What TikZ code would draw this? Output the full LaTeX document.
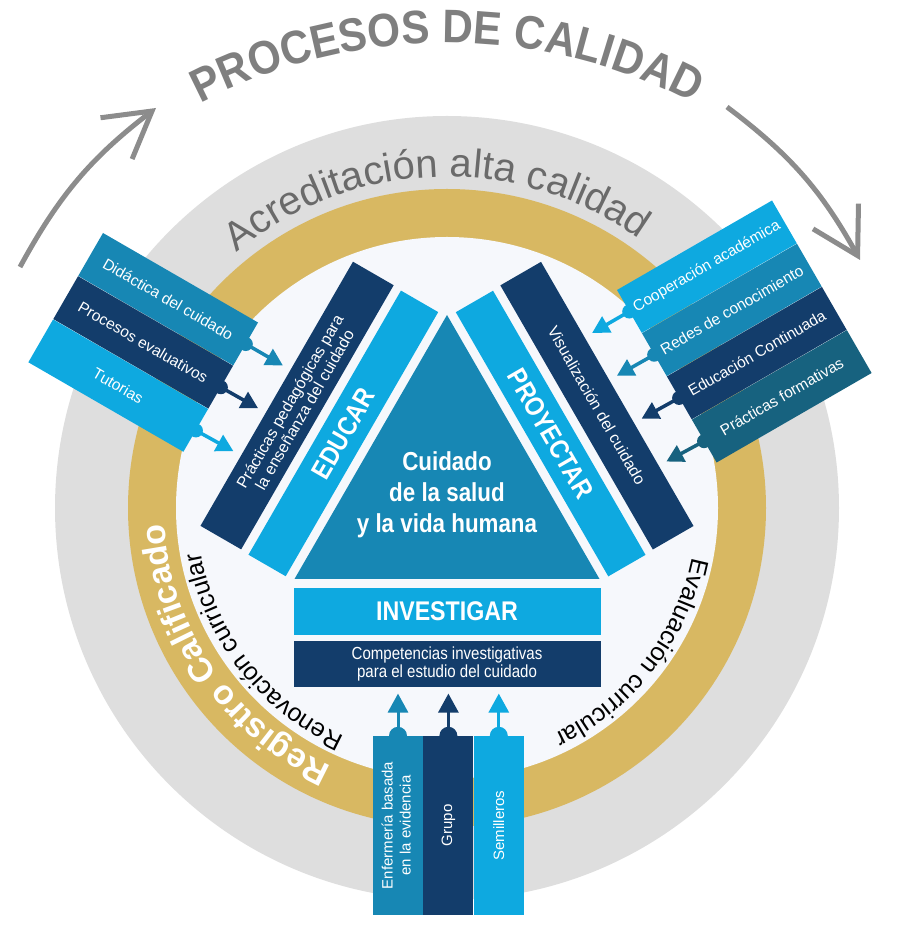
\documentclass[tikz,border=0pt]{standalone}
\usepackage{fontspec}
\setmainfont{Liberation Sans}
\newfontfamily\condfont[FakeStretch=0.86]{Liberation Sans}
\newfontfamily\titlefont[FakeStretch=0.9]{Liberation Sans}
\usepackage{graphicx}
\usepackage{tikz}
\usetikzlibrary{positioning,arrows.meta,decorations.text}

\definecolor{navy}{HTML}{133D6B}
\definecolor{medblue}{HTML}{1787B4}
\definecolor{skyblue}{HTML}{0EA9E0}
\definecolor{petrol}{HTML}{17627F}
\definecolor{ringgold}{HTML}{D8B862}
\definecolor{ringgray}{HTML}{DEDEDE}
\definecolor{innerwhite}{HTML}{F6F8FC}
\definecolor{titlegray}{HTML}{7F7F7F}
\definecolor{labelgray}{HTML}{6A6A6A}
\definecolor{arrowgray}{HTML}{8C8C8C}

\begin{document}
\begin{tikzpicture}[
  x=1pt, y=1pt,
  barbox/.style={rectangle, inner sep=0pt, minimum width=305pt, text=white, align=center},
  bartitle/.style={font=\condfont\bfseries\fontsize{27}{27}\selectfont},
  bartext/.style={font=\fontsize{16}{17}\selectfont},
  box/.style={rectangle, inner sep=0pt, minimum width=307pt, text=white, align=center},
  stripe/.style={rectangle, inner sep=0pt, minimum width=179pt, minimum height=49.5pt, text=white, font=\fontsize{15.5}{18}\selectfont},
  colbox/.style={rectangle, inner sep=0pt, minimum width=50pt, minimum height=179pt, text=white, font=\fontsize{15}{18}\selectfont},
  sidearrow/.style={line width=3.5pt, -{Triangle[length=17pt,width=18pt]}},
  uparrow/.style={line width=3pt, -{Triangle[length=19pt,width=20pt]}, shorten >=6pt},
  bigarrow/.style={line width=5pt, draw=arrowgray, -{Straight Barb[length=45pt,width=52pt]}}
]
\useasboundingbox (0,0) rectangle (900,930);
\coordinate (O) at (447,422);
\coordinate (T) at (447,354);

%Rings
\fill[ringgray] (O) circle (392);
\fill[ringgold] (O) circle (319);
\fill[innerwhite] (O) circle (271);

%Ring texts
\path[decorate, decoration={text along path, text align=center, text color=titlegray,
  text={|\titlefont\bfseries\fontsize{47}{47}\selectfont|PROCESOS DE CALIDAD}}]
  (T) ++(125:533) arc (125:55:533);
\path[decorate, decoration={text along path, text align=center, text color=labelgray,
  text={|\fontsize{40}{40}\selectfont|Acreditación alta calidad}}]
  (O) ++(162:331) arc (162:22:331);
\path[decorate, decoration={text along path, text align=center, text color=white,
  text={|\bfseries\fontsize{34}{34}\selectfont|Registro Calificado}}]
  (O) ++(255:283) arc (255:174:283);
\path[decorate, decoration={text along path, text align=center, text color=black,
  text={|\fontsize{25}{25}\selectfont|Renovación curricular}}]
  (O) ++(252:250) arc (252:184:250);
\path[decorate, decoration={text along path, text align=center, text color=black,
  text={|\fontsize{25}{25}\selectfont|Evaluación curricular}}]
  (O) ++(-4:250) arc (-4:-72:250);

%Cycle arrows
\coordinate (arrL0) at (20,663);
\coordinate (arrL1) at (156,822);
\coordinate (arrR0) at (727,823);
\coordinate (arrR1) at (860,670);
\draw[bigarrow] (arrL0) to[bend left=12] (arrL1);
\draw[bigarrow] (arrR0) to[bend left=12] (arrR1);

%Triangle
\coordinate (apex) at (447,615);
\coordinate (baseL) at (294.5,351);
\coordinate (baseR) at (599.5,351);
\fill[medblue] (apex) -- (baseL) -- (baseR) -- cycle;
\node[text=white, align=center, font=\condfont\bfseries\fontsize{26}{31}\selectfont] (core) at (447,435)
  {Cuidado\\de la salud\\y la vida humana};

%Bars
\begin{scope}[shift={(baseL)}, rotate=60, transform shape]
  \node[barbox, bartitle, fill=skyblue, minimum height=43pt] (educar) at (150.5,30.5) {EDUCAR};
  \node[barbox, bartext, fill=navy, minimum height=47pt] (pedag) at (151.5,84.5)
    {Prácticas pedagógicas para\\la enseñanza del cuidado};
\end{scope}
\begin{scope}[shift={(apex)}, rotate=-60, transform shape]
  \node[barbox, bartitle, fill=skyblue, minimum height=43pt] (proyectar) at (154.5,30.5) {PROYECTAR};
  \node[barbox, bartext, fill=navy, minimum height=47pt] (visual) at (153.5,84.5) {Visualización del cuidado};
\end{scope}

\node[box, fill=skyblue, minimum height=47pt, font=\condfont\bfseries\fontsize{27}{27}\selectfont] (invest) at (447,318.5) {INVESTIGAR};
\node[box, fill=navy, minimum height=46pt, below=6pt of invest, font=\condfont\fontsize{17.5}{18}\selectfont] (compet)
  {Competencias investigativas\\para el estudio del cuidado};

%Left stripes
\begin{scope}[shift={(103,697)}, rotate=-30, transform shape]
  \node[stripe, fill=medblue] (didac) at (89.5,-24.75) {Didáctica del cuidado};
  \node[stripe, fill=navy, below=0pt of didac] (proces) {Procesos evaluativos};
  \node[stripe, fill=skyblue, below=0pt of proces] (tutor) {Tutorias};
  \coordinate (didacTip) at (222,-24.75);
  \coordinate (procesTip) at (222,-74.25);
  \coordinate (tutorTip) at (222,-123.75);
\end{scope}

%Right stripes
\begin{scope}[shift={(617,640)}, rotate=30, transform shape]
  \node[stripe, fill=skyblue] (coop) at (89.5,-24.75) {Cooperación académica};
  \node[stripe, fill=medblue, below=0pt of coop] (redes) {Redes de conocimiento};
  \node[stripe, fill=navy, below=0pt of redes] (contin) {Educación Continuada};
  \node[stripe, fill=petrol, below=0pt of contin] (formt) {Prácticas formativas};
  \coordinate (coopTip) at (-43,-24.75);
  \coordinate (redesTip) at (-43,-74.25);
  \coordinate (continTip) at (-43,-123.75);
  \coordinate (formtTip) at (-43,-173.25);
\end{scope}

%Columns
\node[colbox, fill=medblue] (evid) at (398,104.5)
  {\rotatebox{90}{\begin{tabular}{@{}c@{}}Enfermería basada\\en la evidencia\end{tabular}}};
\node[colbox, fill=navy, right=0pt of evid] (grupo) {\rotatebox{90}{Grupo}};
\node[colbox, fill=skyblue, right=0pt of grupo] (semil) {\rotatebox{90}{Semilleros}};

%Bumps
\fill[medblue] (didac.east) circle (7);
\fill[navy] (proces.east) circle (7);
\fill[skyblue] (tutor.east) circle (7);
\fill[skyblue] (coop.west) circle (7);
\fill[medblue] (redes.west) circle (7);
\fill[navy] (contin.west) circle (7);
\fill[petrol] (formt.west) circle (7);
\fill[medblue] (evid.north) circle (9);
\fill[navy] (grupo.north) circle (9);
\fill[skyblue] (semil.north) circle (9);

%Arrows
\draw[sidearrow, medblue] (didac.east) -- (didacTip);
\draw[sidearrow, navy] (proces.east) -- (procesTip);
\draw[sidearrow, skyblue] (tutor.east) -- (tutorTip);
\draw[sidearrow, skyblue] (coop.west) -- (coopTip);
\draw[sidearrow, medblue] (redes.west) -- (redesTip);
\draw[sidearrow, navy] (contin.west) -- (continTip);
\draw[sidearrow, petrol] (formt.west) -- (formtTip);
\draw[uparrow, medblue] (evid.north) -- (evid.north |- compet.south);
\draw[uparrow, navy] (grupo.north) -- (grupo.north |- compet.south);
\draw[uparrow, skyblue] (semil.north) -- (semil.north |- compet.south);
\end{tikzpicture}
\end{document}
